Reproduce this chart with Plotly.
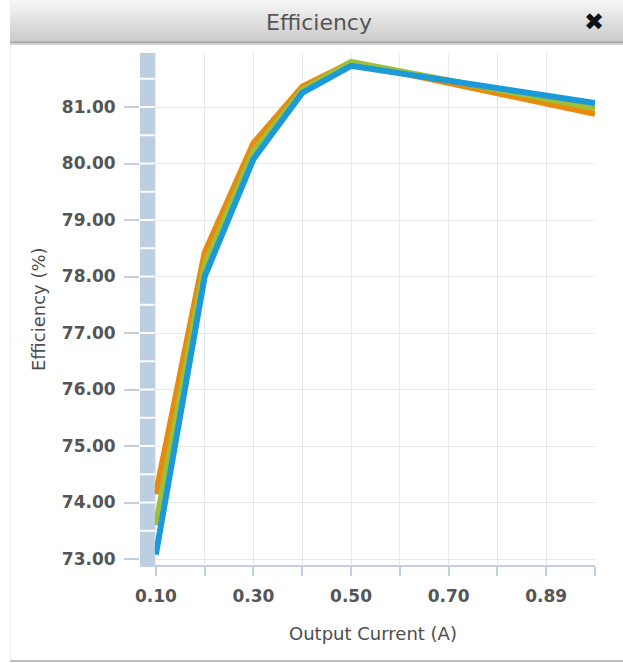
import plotly.graph_objects as go

# ---- data ----
x_labels = ["0.10", "0.20", "0.30", "0.40", "0.50", "0.60", "0.70", "0.80", "0.89", "0.99"]
series_names = ["Series A", "Series B", "Series C"]
orange_vals = [74.15, 78.42, 80.36, 81.36, 81.79, 81.61, 81.43, 81.24, 81.06, 80.88]
green_vals = [73.60, 78.20, 80.22, 81.30, 81.80, 81.64, 81.47, 81.31, 81.15, 80.98]
blue_vals = [73.08, 78.00, 80.08, 81.25, 81.73, 81.60, 81.47, 81.34, 81.20, 81.07]
y_ticks = [73, 74, 75, 76, 77, 78, 79, 80, 81]
colors = ["#ea8a0a", "#9cbf3c", "#1c9ad8"]

W, H = 623, 663
L, R, T, B = 140, 28, 53, 98
PW, PH = W - L - R, H - T - B
XR = [-0.325, 9]
YR = [72.894, 81.956]
FONT = "DejaVu Sans, Verdana, sans-serif"


def px(xp):
    return (xp - L) / PW


def py(yp):
    return (H - B - yp) / PH


idx = list(range(len(x_labels)))
fig = go.Figure()
for name, vals, c in zip(series_names, [orange_vals, green_vals, blue_vals], colors):
    fig.add_trace(go.Scatter(x=idx, y=vals, mode="lines", name=name,
                             line=dict(color=c, width=6), hoverinfo="x+y"))

shapes = []
# left band
shapes.append(dict(type="rect", xref="x", yref="y", x0=XR[0], x1=-0.02, y0=YR[0] - 0.03, y1=YR[1],
                   fillcolor="#bccfe0", line=dict(width=0), layer="above"))
v = 73.5
while v < YR[1]:
    shapes.append(dict(type="line", xref="x", yref="y", x0=XR[0], x1=-0.02, y0=v, y1=v,
                       line=dict(color="white", width=2), layer="above"))
    v += 0.5

# title bar gradient
n = 21
top_c, bot_c = (247, 247, 247), (203, 203, 203)
for i in range(n):
    t = i / (n - 1)
    c = tuple(int(top_c[k] + (bot_c[k] - top_c[k]) * t) for k in range(3))
    shapes.append(dict(type="rect", xref="paper", yref="paper",
                       x0=px(10), x1=px(W + 2), y0=py(i * 2 + 2), y1=py(i * 2),
                       fillcolor="rgb(%d,%d,%d)" % c, line=dict(width=0), layer="below"))
shapes.append(dict(type="line", xref="paper", yref="paper", x0=px(10), x1=px(W + 2),
                   y0=py(42.5), y1=py(42.5), line=dict(color="#a4a4a4", width=2)))
shapes.append(dict(type="line", xref="paper", yref="paper", x0=px(10), x1=px(W + 2),
                   y0=py(44.5), y1=py(44.5), line=dict(color="#d8d8d8", width=1)))
# panel borders
shapes.append(dict(type="line", xref="paper", yref="paper", x0=px(10.5), x1=px(10.5),
                   y0=py(45), y1=py(661), line=dict(color="#ececec", width=1)))
shapes.append(dict(type="line", xref="paper", yref="paper", x0=px(10), x1=px(W + 2),
                   y0=py(661), y1=py(661), line=dict(color="#bdbdbd", width=2)))

annotations = [
    dict(text="Efficiency", xref="paper", yref="paper", x=px(319), y=py(22),
         showarrow=False, font=dict(family=FONT, size=22, color="#555555"),
         xanchor="center", yanchor="middle"),
    dict(text="✖", xref="paper", yref="paper", x=px(594), y=py(22),
         showarrow=False, font=dict(family="DejaVu Sans", size=24, color="#111111"),
         xanchor="center", yanchor="middle"),
    dict(text="Output Current (A)", xref="paper", yref="paper", x=px(373), y=py(633),
         showarrow=False, font=dict(family=FONT, size=18, color="#4d4d4d"),
         xanchor="center", yanchor="middle"),
    dict(text="Efficiency (%)", xref="paper", yref="paper", x=px(38), y=py(309),
         showarrow=False, textangle=-90, font=dict(family=FONT, size=18, color="#4d4d4d"),
         xanchor="center", yanchor="middle"),
]

fig.update_layout(
    width=W, height=H,
    margin=dict(l=L, r=R, t=T, b=B),
    paper_bgcolor="white", plot_bgcolor="white",
    showlegend=False,
    shapes=shapes, annotations=annotations,
    font=dict(family=FONT, color="#555555"),
    xaxis=dict(
        range=XR, tickmode="array", tickvals=idx,
        ticktext=[l if i % 2 == 0 else "" for i, l in enumerate(x_labels)],
        showgrid=True, gridcolor="#e8e8e8", gridwidth=1, zeroline=False,
        showline=True, linecolor="#c0d0e0", linewidth=2,
        ticks="outside", ticklen=9, tickcolor="#c0d0e0", tickwidth=2,
        ticklabelstandoff=6,
        tickfont=dict(size=17, color="#555555", family=FONT, weight="bold"),
        fixedrange=True,
    ),
    yaxis=dict(
        range=YR, tickmode="array", tickvals=y_ticks,
        ticktext=["%.2f" % t for t in y_ticks],
        showgrid=True, gridcolor="#e8e8e8", gridwidth=1, zeroline=False,
        showline=False,
        ticks="outside", ticklen=15, tickcolor="#c0d0e0", tickwidth=2,
        ticklabelstandoff=5,
        tickfont=dict(size=17, color="#555555", family=FONT, weight="bold"),
        fixedrange=True,
    ),
)

fig.write_html("out.html", config={"displayModeBar": False},
               post_script="document.body.style.margin='0';")
